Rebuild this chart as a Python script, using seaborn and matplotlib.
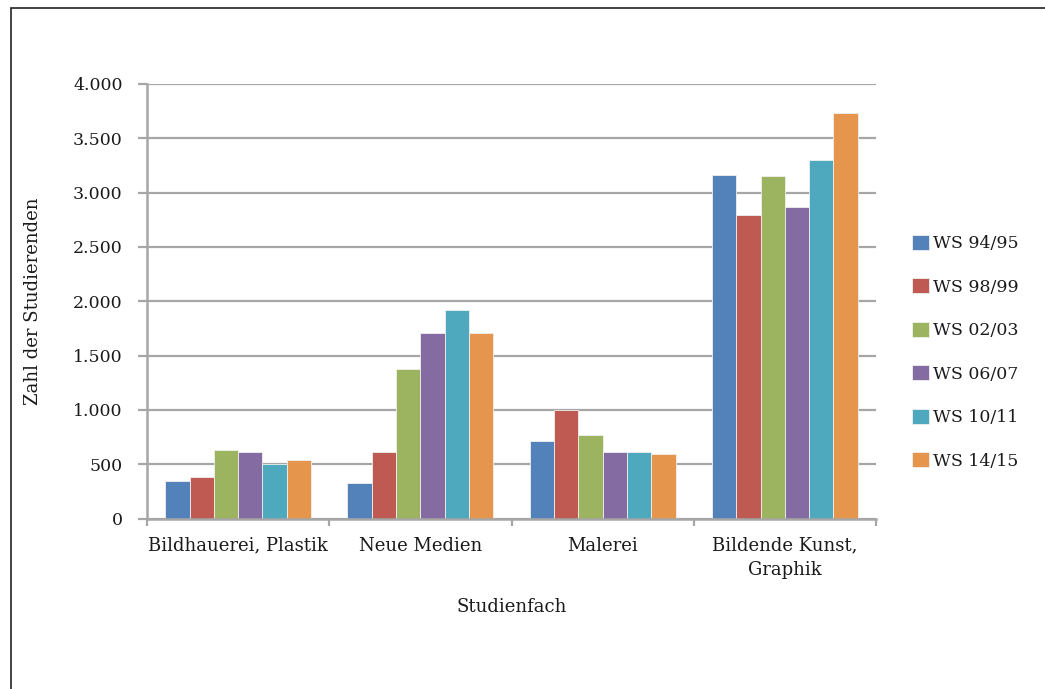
import numpy as np
import pandas as pd
import matplotlib
matplotlib.use("Agg")
import matplotlib.pyplot as plt
from matplotlib.patches import Rectangle
from matplotlib.ticker import FixedLocator, NullFormatter
import seaborn as sns

# Studierende nach Studienfach und Wintersemester
faecher = ["Bildhauerei, Plastik", "Neue Medien", "Malerei", "Bildende Kunst,\nGraphik"]
semester = ["WS 94/95", "WS 98/99", "WS 02/03", "WS 06/07", "WS 10/11", "WS 14/15"]
ws_94_95 = [345, 330, 710, 3165]
ws_98_99 = [385, 615, 995, 2790]
ws_02_03 = [632, 1380, 766, 3150]
ws_06_07 = [612, 1710, 615, 2865]
ws_10_11 = [500, 1915, 615, 3300]
ws_14_15 = [538, 1710, 594, 3730]
y_ticks = [0, 500, 1000, 1500, 2000, 2500, 3000, 3500, 4000]
y_tick_labels = ["0", "500", "1.000", "1.500", "2.000", "2.500", "3.000", "3.500", "4.000"]
farben = ["#5282B9", "#BE5A52", "#9CB35F", "#846BA1", "#4EA9BF", "#E6964C"]

werte = [ws_94_95, ws_98_99, ws_02_03, ws_06_07, ws_10_11, ws_14_15]
df = pd.DataFrame(
    [(f, s, v[i]) for s, v in zip(semester, werte) for i, f in enumerate(faecher)],
    columns=["Studienfach", "Semester", "Anzahl"],
)

sns.set_theme(style="white")
plt.rcParams["font.family"] = ["DejaVu Serif"]

fig = plt.figure(figsize=(10.45, 6.89), dpi=100)
ax = fig.add_axes([147 / 1045, 1 - 518.5 / 689, (876 - 147) / 1045, (518.5 - 84) / 689])

sns.barplot(
    data=df, x="Studienfach", y="Anzahl", hue="Semester",
    order=faecher, hue_order=semester, palette=farben,
    width=0.8, saturation=1, edgecolor="#f0f0f0", linewidth=0.6, ax=ax,
)

grau = "#A6A6A6"
text = "#1a1a1a"
ax.set_xlim(-0.5, len(faecher) - 0.5)
ax.set_ylim(0, 4000)
ax.set_yticks(y_ticks)
ax.set_yticklabels(y_tick_labels)
ax.yaxis.grid(True, color=grau, linewidth=1.6)
ax.set_axisbelow(True)

for side in ["top", "right"]:
    ax.spines[side].set_visible(False)
for side in ["left", "bottom"]:
    ax.spines[side].set_color(grau)
    ax.spines[side].set_linewidth(1.8)

ax.tick_params(axis="y", which="major", direction="out", length=6.5, width=1.6,
               color=grau, pad=11, labelsize=12.5, labelcolor=text, left=True)
ax.tick_params(axis="x", which="major", length=0, pad=13, labelsize=13, labelcolor=text)
ax.xaxis.set_minor_locator(FixedLocator(np.arange(-0.5, len(faecher), 1.0)))
ax.xaxis.set_minor_formatter(NullFormatter())
ax.tick_params(axis="x", which="minor", direction="out", length=5, width=1.6,
               color=grau, bottom=True)
for lbl in ax.get_xticklabels():
    lbl.set_linespacing(1.45)

ax.set_xlabel("Studienfach", fontsize=13, color=text, labelpad=14)
ax.set_ylabel("Zahl der Studierenden", fontsize=13, color=text, labelpad=22)

leg = ax.legend(
    loc="center left", bbox_to_anchor=(1.04, 0.383), frameon=False,
    fontsize=12.5, handlelength=0.95, handleheight=0.95, handletextpad=0.25,
    labelspacing=1.5, borderaxespad=0,
)
for t in leg.get_texts():
    t.set_color(text)

# Rahmen um die Grafik
fig.patches.append(Rectangle((10.5 / 1045, -0.1), 1.2, 1.1 - 7.5 / 689,
                             transform=fig.transFigure, fill=False,
                             edgecolor="#222222", linewidth=1.2))

fig.savefig("out.png", dpi=100, facecolor="white")
